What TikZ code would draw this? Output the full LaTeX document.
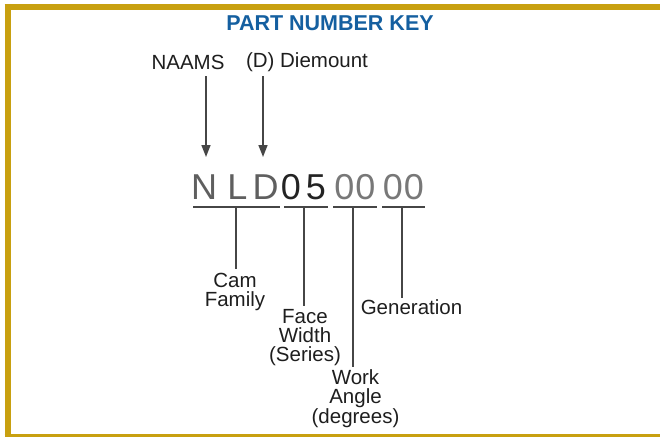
\documentclass[tikz,border=0pt]{standalone}
\usepackage{fontspec}
\setmainfont{Liberation Sans}
\usetikzlibrary{arrows.meta}
\definecolor{gold}{RGB}{200,160,16}
\definecolor{titleblue}{RGB}{20,95,160}
\definecolor{nldgray}{RGB}{95,95,95}
\definecolor{darkdig}{RGB}{35,35,35}
\definecolor{lightdig}{RGB}{120,120,120}
\definecolor{linegray}{RGB}{70,70,70}
\definecolor{txt}{RGB}{30,30,30}
\tikzset{
  lbl/.style={inner sep=0pt, text=txt, align=center, font=\fontsize{20.5}{19}\selectfont},
  big/.style={inner sep=0pt, anchor=base, font=\fontsize{36}{36}\selectfont},
  uline/.style={draw=linegray, line width=1.5pt},
  stem/.style={draw=linegray, line width=1.3pt},
  darrow/.style={draw=linegray, line width=1.5pt, -{Triangle[width=9pt,length=12pt]}},
  frameline/.style={draw=gold, line width=6pt},
}
\begin{document}
\begin{tikzpicture}[x=1pt,y=-1pt]
\useasboundingbox (0,0) rectangle (660,436);
% frame (open to the right)
\coordinate (ftr) at (664,7);
\coordinate (ftl) at (4.5,7);
\coordinate (fl1) at (7.5,4);
\coordinate (fl2) at (7.5,436);
\coordinate (fbl) at (4.5,435);
\coordinate (fbr) at (664,435);
\begin{scope}
\clip (0,0) rectangle (660,436);
\path[frameline] (ftl) -- (ftr);
\path[frameline] (fl1) -- (fl2);
\path[draw=gold, line width=3pt] (fbl) -- (fbr);
\end{scope}
% title
\node[inner sep=0pt, text=titleblue, font=\fontsize{21.5}{22}\selectfont\bfseries] (title) at (330,23) {PART NUMBER KEY};
% top labels
\node[lbl] (naams) at (188,62.5) {NAAMS};
\node[lbl] (diem) at (307,62.5) {(D) Diemount};
\coordinate (a1s) at (206,76);
\coordinate (a1e) at (206,157);
\coordinate (a2s) at (263,76);
\coordinate (a2e) at (263,157);
\draw[darrow] (a1s) -- (a1e);
\draw[darrow] (a2s) -- (a2e);
% big letters
\node[big, text=nldgray] (cN) at (204,199) {N};
\node[big, text=nldgray] (cL) at (237.5,199) {L};
\node[big, text=nldgray] (cD) at (265.5,199) {D};
\node[big, text=darkdig] (c0) at (291,199) {0};
\node[big, text=darkdig] (c5) at (316,199) {5};
\node[big, text=lightdig] (c1) at (344.5,199) {0};
\node[big, text=lightdig] (c2) at (365.5,199) {0};
\node[big, text=lightdig] (c3) at (393,199) {0};
\node[big, text=lightdig] (c4) at (414,199) {0};
% underlines
\coordinate (u1a) at (193,207); \coordinate (u1b) at (280,207);
\coordinate (u2a) at (284,207); \coordinate (u2b) at (328,207);
\coordinate (u3a) at (333,207); \coordinate (u3b) at (377,207);
\coordinate (u4a) at (382,207); \coordinate (u4b) at (425,207);
\draw[uline] (u1a) -- (u1b);
\draw[uline] (u2a) -- (u2b);
\draw[uline] (u3a) -- (u3b);
\draw[uline] (u4a) -- (u4b);
% stems
\coordinate (s1) at (236,207); \coordinate (e1) at (236,269);
\coordinate (s2) at (304,207); \coordinate (e2) at (304,306);
\coordinate (s3) at (353,207); \coordinate (e3) at (353,367);
\coordinate (s4) at (402,207); \coordinate (e4) at (402,298);
\draw[stem] (s1) -- (e1);
\draw[stem] (s2) -- (e2);
\draw[stem] (s3) -- (e3);
\draw[stem] (s4) -- (e4);
% labels
\node[lbl] (cam) at (235,292) {Cam\\Family};
\node[lbl] (face) at (305,338) {Face\\Width\\(Series)};
\node[lbl] (work) at (355.5,399) {Work\\Angle\\(degrees)};
\node[lbl] (gen) at (411.5,307) {Generation};
\end{tikzpicture}
\end{document}
